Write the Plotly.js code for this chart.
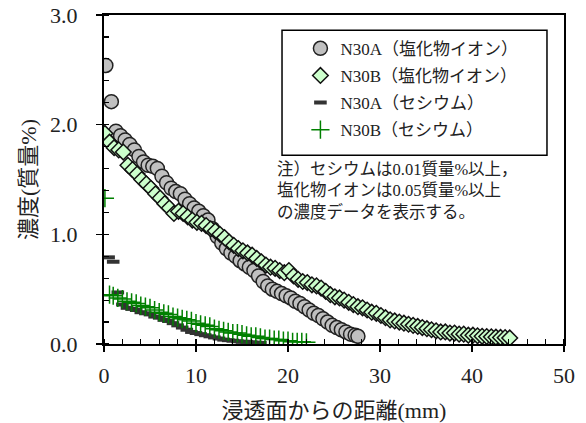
<!DOCTYPE html>
<html><head><meta charset="utf-8">
<script src="https://cdn.plot.ly/plotly-3.0.1.min.js"></script>
<style>html,body{margin:0;padding:0;background:#fff;}</style>
</head><body>
<div id="chart" style="width:586px;height:423px;"></div>
<script>
// N30A chloride (circles)
const clA_x = [0.2,0.8,1.3,1.8,2.3,2.8,3.3,3.8,4.3,4.8,5.3,5.8,6.3,6.8,7.3,7.8,8.3,8.8,9.3,9.8,10.3,10.8,11.3,11.8,12.3,12.8,13.3,13.8,14.3,14.8,15.3,15.8,16.3,16.8,17.3,17.8,18.3,18.8,19.3,19.8,20.3,20.8,21.3,21.8,22.3,22.8,23.3,23.8,24.3,24.8,25.3,25.8,26.3,26.8,27.3,27.6];
const clA_y = [2.54,2.21,1.94,1.90,1.86,1.82,1.77,1.71,1.66,1.63,1.62,1.60,1.53,1.47,1.42,1.39,1.37,1.32,1.28,1.24,1.21,1.17,1.13,1.05,0.98,0.92,0.87,0.83,0.80,0.76,0.73,0.70,0.67,0.62,0.57,0.53,0.50,0.48,0.46,0.44,0.42,0.39,0.37,0.34,0.31,0.28,0.26,0.23,0.20,0.17,0.15,0.13,0.11,0.09,0.08,0.07];
// N30B chloride (diamonds)
const clB_x = [0.1,0.6,1.1,1.6,2.1,2.6,3.1,3.6,4.1,4.6,5.1,5.6,6.1,6.6,7.1,7.6,8.1,8.6,9.1,9.6,10.1,10.6,11.1,11.6,12.1,12.6,13.1,13.6,14.1,14.6,15.1,15.6,16.1,16.6,17.1,17.6,18.1,18.6,19.1,19.6,20.1,20.6,21.1,21.6,22.1,22.6,23.1,23.6,24.1,24.6,25.1,25.6,26.1,26.6,27.1,27.6,28.1,28.6,29.1,29.6,30.1,30.6,31.1,31.6,32.1,32.6,33.1,33.6,34.1,34.6,35.1,35.6,36.1,36.6,37.1,37.6,38.1,38.6,39.1,39.6,40.1,40.6,41.1,41.6,42.1,42.6,43.1,43.6,44.1];
const clB_y = [1.92,1.84,1.79,1.77,1.75,1.63,1.59,1.55,1.50,1.46,1.42,1.37,1.33,1.28,1.24,1.19,1.21,1.19,1.16,1.13,1.11,1.10,1.08,1.05,1.03,1.00,0.97,0.93,0.90,0.87,0.85,0.83,0.81,0.78,0.75,0.72,0.70,0.69,0.67,0.65,0.67,0.62,0.59,0.57,0.56,0.54,0.53,0.51,0.48,0.45,0.43,0.42,0.40,0.38,0.36,0.34,0.33,0.31,0.29,0.28,0.26,0.24,0.22,0.21,0.20,0.19,0.18,0.17,0.16,0.15,0.14,0.13,0.12,0.11,0.11,0.10,0.10,0.09,0.09,0.08,0.08,0.075,0.07,0.068,0.065,0.062,0.06,0.058,0.055];
// N30A cesium (dashes)
const csA_x = [0.5,1.0,1.5,2.0,2.5,3.0,3.5,4.0,4.5,5.0,5.5,6.0,6.5,7.0,7.5,8.0,8.5,9.0,9.5,10.0,10.5,11.0,11.5,12.0,12.5,13.0,13.5,14.0,14.5,15.0,15.5,16.0,16.5,17.0];
const csA_y = [0.79,0.75,0.47,0.36,0.33,0.32,0.31,0.29,0.28,0.27,0.25,0.24,0.22,0.21,0.19,0.17,0.15,0.13,0.11,0.10,0.09,0.08,0.07,0.06,0.05,0.04,0.035,0.03,0.025,0.02,0.02,0.015,0.012,0.01];
// N30B cesium (plus)
const csB_x = [0.1,0.6,1.0,1.5,2.0,2.5,3.0,3.5,4.0,4.5,5.0,5.5,6.0,6.5,7.0,7.5,8.0,8.5,9.0,9.5,10.0,10.5,11.0,11.5,12.0,12.5,13.0,13.5,14.0,14.5,15.0,15.5,16.0,16.5,17.0,17.5,18.0,18.5,19.0,19.5,20.0,20.5,21.0,21.5,22.0];
const csB_y = [1.33,0.45,0.44,0.42,0.41,0.39,0.38,0.37,0.35,0.34,0.33,0.31,0.29,0.28,0.27,0.25,0.24,0.23,0.22,0.21,0.19,0.18,0.17,0.16,0.14,0.13,0.12,0.11,0.10,0.10,0.09,0.08,0.07,0.07,0.06,0.05,0.05,0.04,0.04,0.03,0.03,0.02,0.02,0.02,0.015];

const names = ['N30A（塩化物イオン）','N30B（塩化物イオン）','N30A（セシウム）','N30B（セシウム）'];
const xTitle = '浸透面からの距離(mm)';
const yTitle = '濃度(質量%)';
const note = '注）セシウムは0.01質量%以上，<br>塩化物イオンは0.05質量%以上<br>の濃度データを表示する。';

const FONT = '"Liberation Serif", "Noto Sans CJK JP", serif';

const traces = [
  {x: clA_x, y: clA_y, name: names[0], legendgroup: 'a', mode: 'markers', type: 'scatter',
   marker: {symbol: 'circle', size: 14, color: '#c0c0c0', line: {color: '#222', width: 1.5}}},
  {x: clB_x, y: clB_y, name: names[1], legendgroup: 'b', mode: 'markers', type: 'scatter',
   marker: {symbol: 'diamond', size: 12, color: '#ccffcc', line: {color: '#111', width: 1.5}}},
  {x: csA_x, y: csA_y, name: names[2], legendgroup: 'c', mode: 'markers', type: 'scatter',
   marker: {symbol: 'line-ew', size: 9, color: '#333', line: {color: '#333', width: 4}}},
  {x: csB_x, y: csB_y, name: names[3], legendgroup: 'd', mode: 'markers', type: 'scatter',
   marker: {symbol: 'cross-thin', size: 13, color: '#008000', line: {color: '#008000', width: 1.5}}}
];

const layout = {
  width: 586, height: 423,
  margin: {l: 104, r: 22, t: 15, b: 79},
  paper_bgcolor: '#fff', plot_bgcolor: '#fff',
  font: {family: FONT, size: 16, color: '#222'},
  showlegend: true,
  legend: {x: 0.427, y: 0.952, xanchor: 'left', yanchor: 'top',
    borderwidth: 0, bgcolor: 'rgba(0,0,0,0)',
    traceorder: 'grouped', tracegroupgap: 2,
    font: {family: FONT, size: 17, color: '#222'},
    itemwidth: 30},
  shapes: [{type: 'rect', xref: 'paper', yref: 'paper',
    x0: 0.387, x1: 0.963, y0: 0.574, y1: 0.954,
    line: {color: '#000', width: 1.5}, fillcolor: 'rgba(0,0,0,0)', layer: 'below'}],
  xaxis: {range: [0, 50], dtick: 10, showgrid: false, zeroline: false,
    showline: true, linecolor: '#000', linewidth: 2, mirror: true,
    ticks: 'outside', ticklen: 6, tickwidth: 1.5, tickcolor: '#000', ticklabelstandoff: 5,
    minor: {dtick: 2, ticks: 'inside', ticklen: 5, tickwidth: 1.2, tickcolor: '#000'},
    tickfont: {family: FONT, size: 22, color: '#222'},
    title: {text: xTitle, font: {family: FONT, size: 22, color: '#222'}, standoff: 16}},
  yaxis: {range: [0, 3], dtick: 1, tickformat: '.1f', showgrid: false, zeroline: false,
    showline: true, linecolor: '#000', linewidth: 2, mirror: true,
    ticks: 'outside', ticklen: 6, tickwidth: 1.5, tickcolor: '#000', ticklabelstandoff: 14,
    minor: {dtick: 0.2, ticks: 'inside', ticklen: 5, tickwidth: 1.2, tickcolor: '#000'},
    tickfont: {family: FONT, size: 22, color: '#222'},
    title: {text: yTitle, font: {family: FONT, size: 22, color: '#222'}, standoff: 7}},
  annotations: [{
    xref: 'paper', yref: 'paper', x: 0.372, y: 0.565, xanchor: 'left', yanchor: 'top',
    text: note, showarrow: false, align: 'left',
    font: {family: FONT, size: 16.5, color: '#222'}
  }]
};

Plotly.newPlot('chart', traces, layout, {displayModeBar: false, staticPlot: true});
</script>
</body></html>
